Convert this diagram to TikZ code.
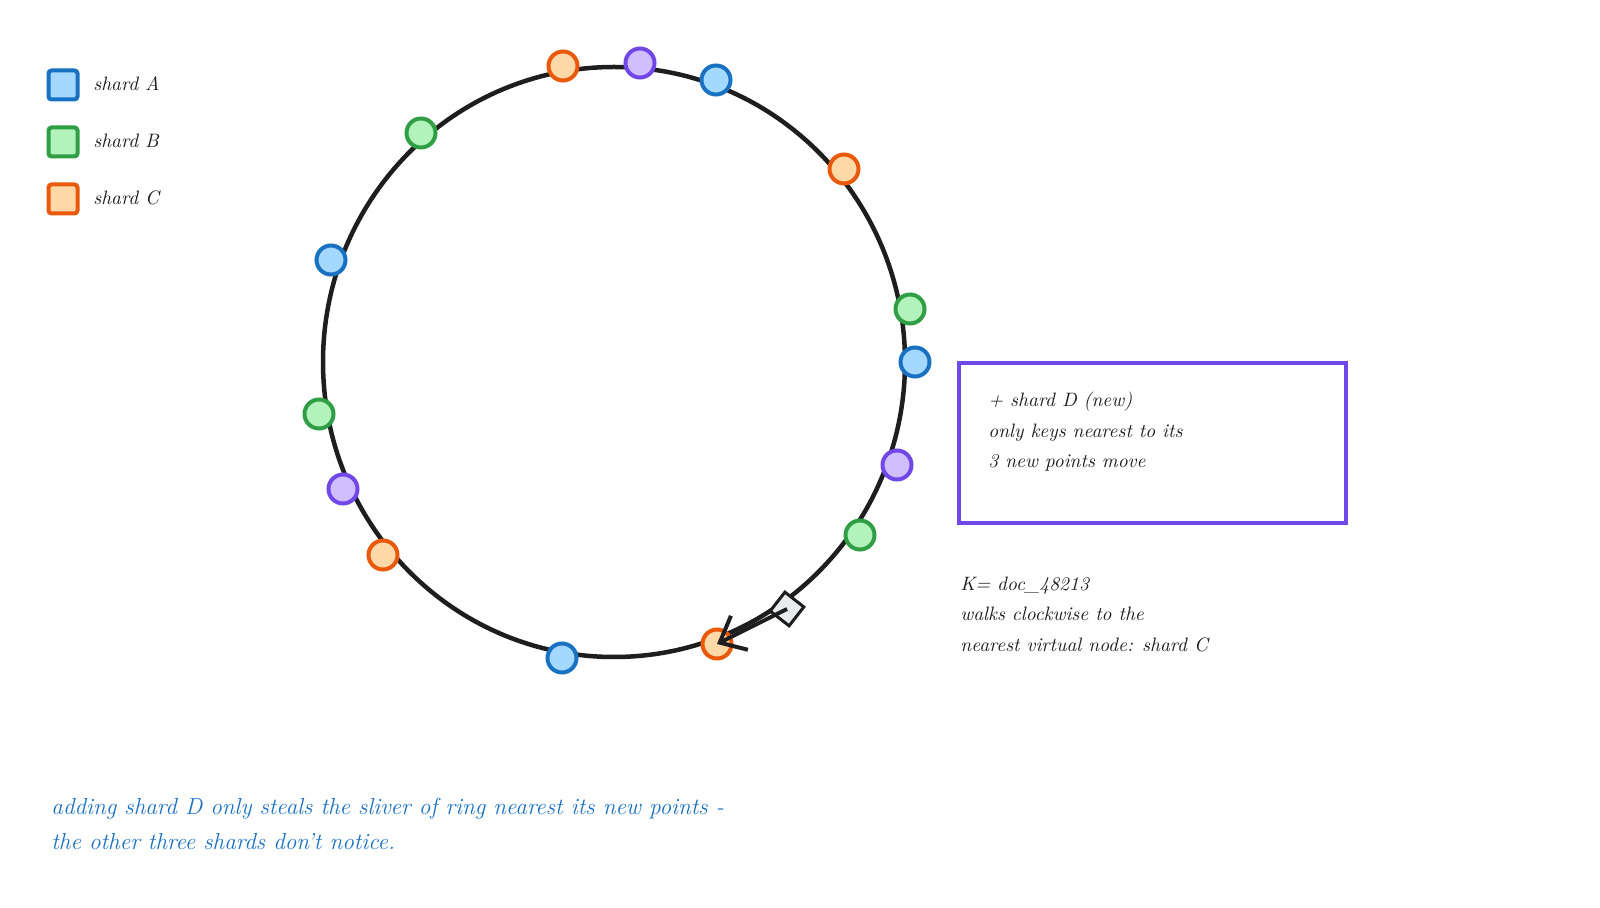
\documentclass[tikz,border=0pt]{standalone}
\usetikzlibrary{arrows.meta}
\definecolor{ink}{HTML}{1E1E1E}
\definecolor{bluS}{HTML}{1971C2}\definecolor{bluF}{HTML}{A5D8FF}
\definecolor{grnS}{HTML}{2F9E44}\definecolor{grnF}{HTML}{B2F2BB}
\definecolor{orgS}{HTML}{E8590C}\definecolor{orgF}{HTML}{FFD8A8}
\definecolor{vioS}{HTML}{7048E8}\definecolor{vioF}{HTML}{D0BFFF}
\definecolor{keyF}{HTML}{E9ECEF}
\begin{document}
\begin{tikzpicture}[x=0.5pt,y=-0.5pt,
  dot/.style={circle,line width=2pt,minimum size=14.5pt,inner sep=0pt},
  dA/.style={dot,draw=bluS,fill=bluF},
  dB/.style={dot,draw=grnS,fill=grnF},
  dC/.style={dot,draw=orgS,fill=orgF},
  dD/.style={dot,draw=vioS,fill=vioF},
  legbox/.style={rectangle,rounded corners=1.5pt,line width=2pt,minimum size=14.5pt,inner sep=0pt},
  lbl/.style={anchor=base west,inner sep=0pt,align=left,text=ink,font=\itshape\fontsize{9.7pt}{15.25pt}\selectfont},
  note/.style={anchor=base west,inner sep=0pt,align=left,text=bluS,font=\itshape\fontsize{11.6pt}{17.5pt}\selectfont},
]
\useasboundingbox (0,0) rectangle (1600,908);
\fill[white] (0,0) rectangle (1600,908);

% legend
\node[legbox,draw=bluS,fill=bluF] (legA) at (63,85) {};
\node[legbox,draw=grnS,fill=grnF] (legB) at (63,142) {};
\node[legbox,draw=orgS,fill=orgF] (legC) at (63,199) {};
\node[lbl] (labA) at (93,91) {shard A};
\node[lbl] (labB) at (93,148) {shard B};
\node[lbl] (labC) at (93,205) {shard C};

% ring
\draw[ink,line width=2.25pt] (614,362) ellipse [x radius=291, y radius=295];

% virtual nodes
\node[dC] (c1) at (563,66) {};
\node[dD] (d1) at (640,63) {};
\node[dA] (a1) at (716,80) {};
\node[dC] (c2) at (844,169) {};
\node[dB] (b1) at (910,309) {};
\node[dA] (a2) at (915,362) {};
\node[dD] (d2) at (897,465) {};
\node[dB] (b2) at (860,535) {};
\node[dC] (c3) at (717,644) {};
\node[dA] (a3) at (562,658) {};
\node[dC] (c4) at (383,555) {};
\node[dD] (d3) at (343,489) {};
\node[dB] (b3) at (319,414) {};
\node[dA] (a4) at (331,260) {};
\node[dB] (b4) at (421,133) {};

% key
\node[rectangle,draw=ink,fill=keyF,line width=1.5pt,minimum size=12pt,inner sep=0pt,rotate=-38] (key) at (787,609) {};
\draw[ink,line width=2pt,-{Straight Barb[length=11pt,width=19pt,line width=2pt]}] (key.center) -- (c3.center);

% new shard box
\draw[vioS,line width=2.25pt] (959,363) rectangle (1346,523);
\node[lbl] (boxtxt) at (988,468) {+ shard D (new)\\only keys nearest to its\\3 new points move};

% key text
\node[lbl] (keytxt) at (960,651) {K= doc\_48213\\walks clockwise to the\\nearest virtual node: shard C};

% bottom note
\node[note] (bottom) at (51,849) {adding shard D only steals the sliver of ring nearest its new points -\\the other three shards don't notice.};
\end{tikzpicture}
\end{document}
